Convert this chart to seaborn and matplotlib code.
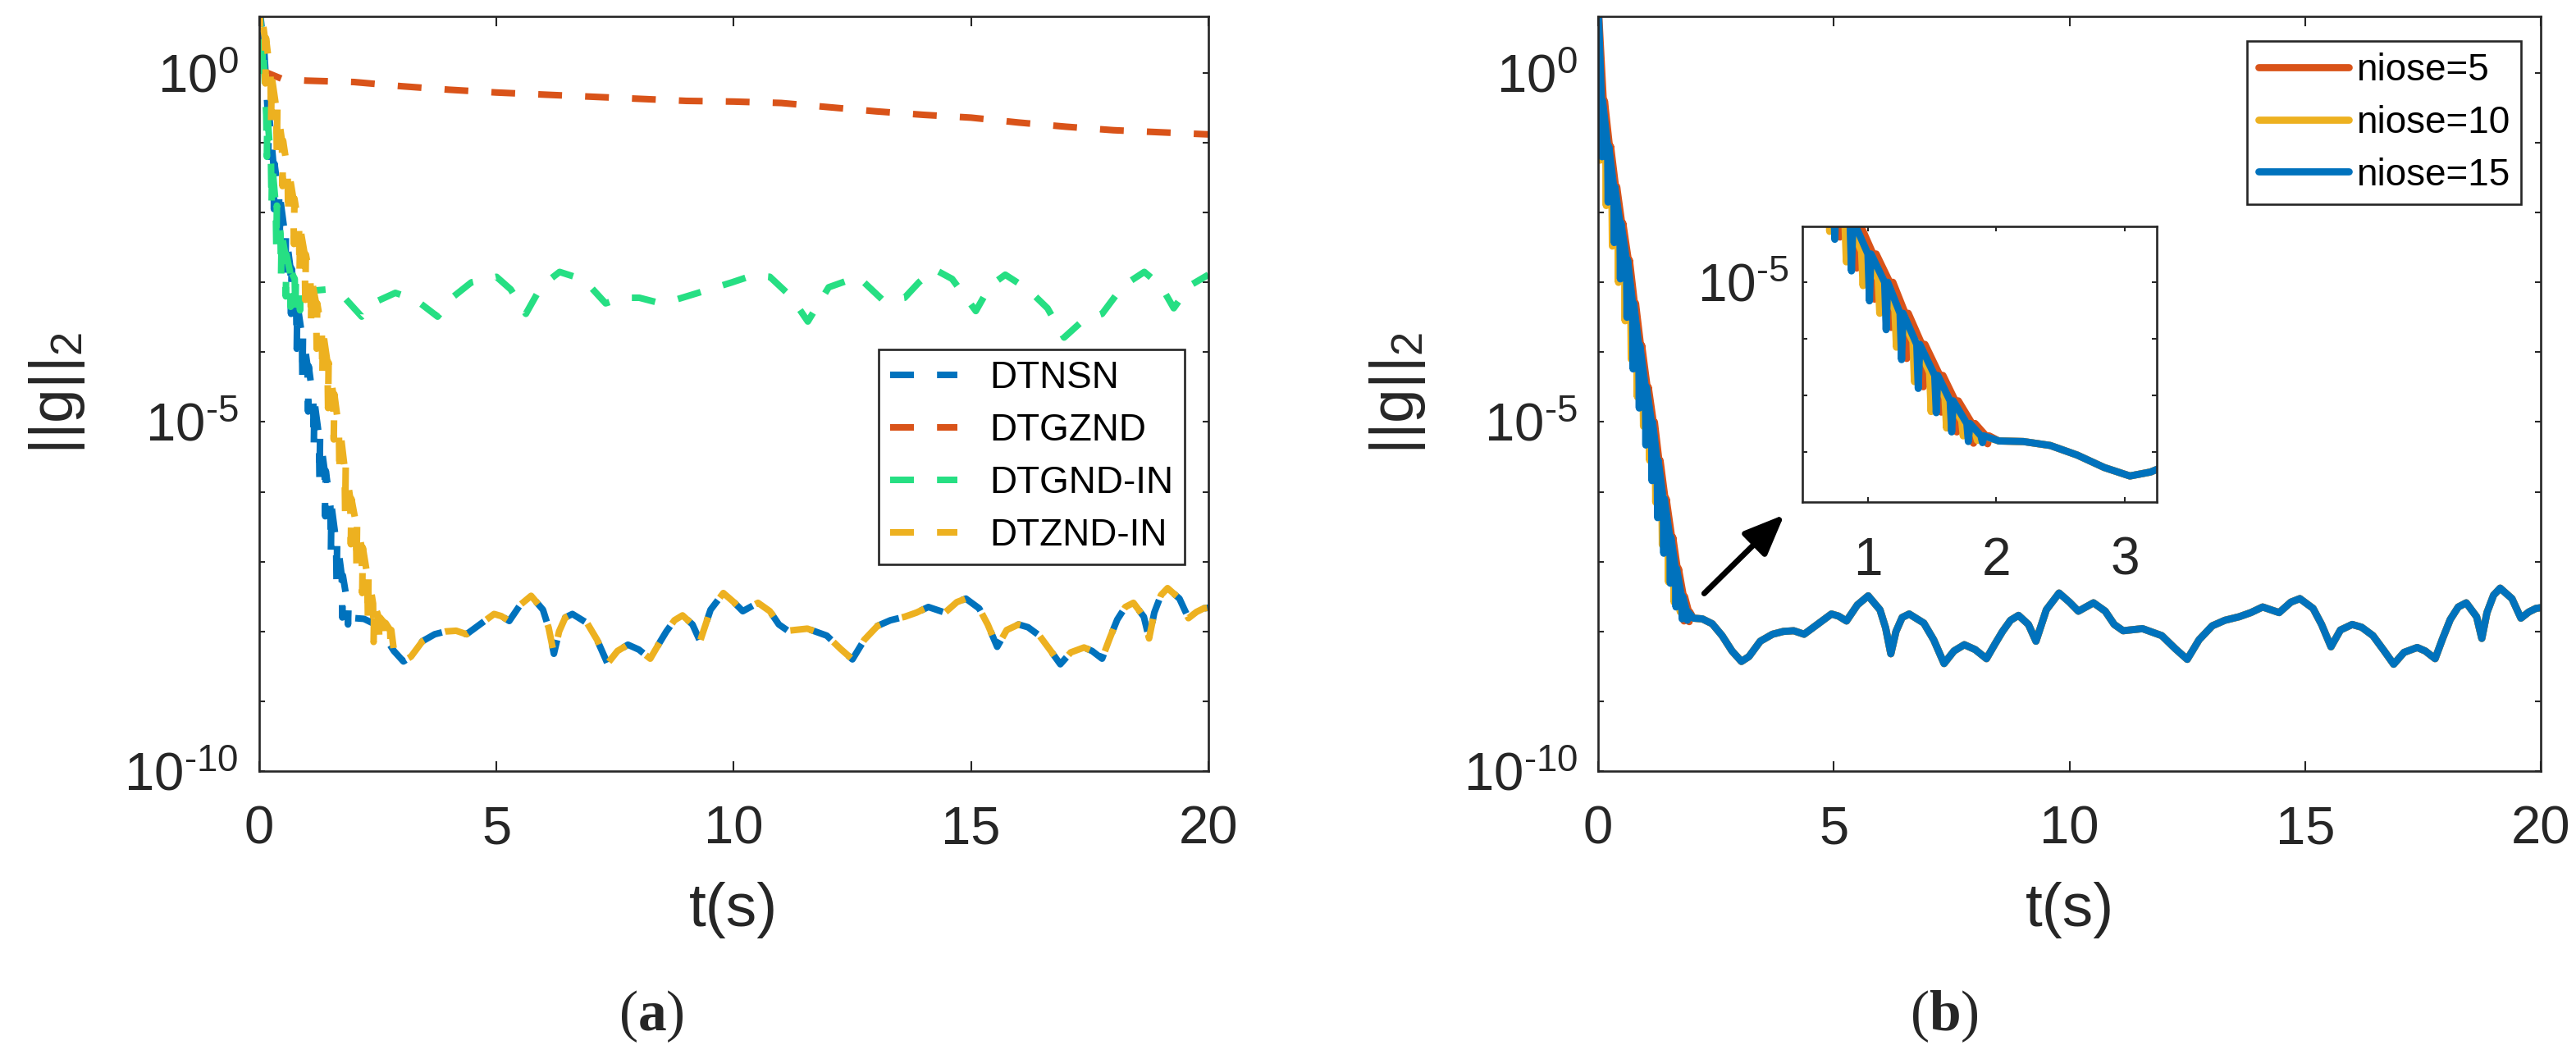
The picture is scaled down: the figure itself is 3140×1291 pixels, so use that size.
import numpy as np
import matplotlib
matplotlib.use("Agg")
import matplotlib.pyplot as plt
import matplotlib.ticker as mticker
import seaborn as sns

# MATLAB default colours + the light green of DTGND-IN
C_BLUE = '#0072BD'
C_ORANGE = '#D95319'
C_YELLOW = '#EDB120'
C_GREEN = '#26DF83'
INK = '#262626'

# ---------------- data, stored as log10(||g||_2) ----------------
# converged oscillation, common to every converging run after ~2 s
t_tail = [2.02, 2.21, 2.42, 2.63, 2.84, 3.04, 3.20, 3.44, 3.70, 3.93, 4.15, 4.37, 4.65, 4.95,
          5.10, 5.27, 5.50, 5.73, 5.98, 6.10, 6.21, 6.32, 6.45, 6.60, 6.91, 7.12, 7.34, 7.55,
          7.77, 8.00, 8.24, 8.42, 8.58, 8.75, 8.92, 9.13, 9.29, 9.51, 9.78, 10.00, 10.19, 10.51,
          10.76, 10.95, 11.14, 11.55, 11.96, 12.25, 12.50, 12.75, 13.03, 13.30, 13.60, 13.85,
          14.10, 14.45, 14.70, 14.89, 15.17, 15.35, 15.55, 15.75, 16.00, 16.20, 16.44, 16.68,
          16.88, 17.10, 17.38, 17.55, 17.76, 17.92, 18.08, 18.25, 18.42, 18.64, 18.75, 18.86,
          19.00, 19.14, 19.39, 19.58, 19.75, 19.90, 20.00]
lg_tail = [-7.81, -7.82, -7.89, -8.06, -8.28, -8.43, -8.36, -8.14, -8.04, -8.00, -7.99, -8.04, -7.90, -7.75,
           -7.78, -7.85, -7.62, -7.49, -7.69, -7.95, -8.32, -8.00, -7.80, -7.75, -7.88, -8.12, -8.46, -8.28,
           -8.19, -8.26, -8.39, -8.18, -8.00, -7.84, -7.77, -7.90, -8.14, -7.69, -7.45, -7.58, -7.71, -7.59,
           -7.71, -7.90, -7.99, -7.96, -8.06, -8.25, -8.40, -8.12, -7.92, -7.84, -7.79, -7.73,
           -7.65, -7.73, -7.58, -7.53, -7.67, -7.90, -8.22, -7.98, -7.90, -7.94, -8.06, -8.28,
           -8.47, -8.30, -8.23, -8.28, -8.39, -8.10, -7.83, -7.65, -7.59, -7.79, -8.10, -7.73,
           -7.48, -7.38, -7.53, -7.81, -7.72, -7.67, -7.66]

# (a) DTGZND: slow decay
t_gznd = [0.0, 0.5, 1.0, 2.0, 3.0, 4.0, 5.0, 6.0, 7.0, 8.0, 9.0, 10.0, 11.0, 12.0, 13.0,
          14.0, 15.0, 16.0, 17.0, 18.0, 19.0, 20.0]
lg_gznd = [0.05, -0.09, -0.11, -0.13, -0.19, -0.24, -0.28, -0.31, -0.34, -0.37, -0.40, -0.41,
           -0.43, -0.49, -0.55, -0.60, -0.64, -0.71, -0.77, -0.82, -0.85, -0.88]

# (a) DTGND-IN: noisy drop, then stalls near 1e-3
tk_gnd = [0.05, 0.15, 0.25, 0.35, 0.45, 0.55, 0.65, 0.75, 0.85]
hi_gnd = [0.50, -0.60, -1.30, -1.90, -2.30, -2.60, -2.85, -2.95, -3.00]
lo_gnd = [-0.10, -1.20, -1.90, -2.50, -2.90, -3.20, -3.35, -3.45, -3.40]
t_gnd = [1.10, 1.45, 1.80, 2.16, 2.45, 2.87, 3.30, 3.76, 4.10, 4.47, 5.00, 5.30, 5.62, 5.95,
         6.33, 6.65, 6.95, 7.30, 7.65, 8.01, 8.35, 8.72, 9.25, 9.96, 10.40, 10.76, 11.20, 11.56,
         12.00, 12.62, 13.15, 13.60, 13.90, 14.22, 14.60, 15.10, 15.40, 15.72, 16.20, 16.61,
         16.96, 17.35, 17.76, 18.20, 18.65, 19.00, 19.27, 19.60, 20.00]
lg_gnd = [-3.12, -3.10, -3.22, -3.49, -3.28, -3.15, -3.25, -3.49, -3.20, -3.00, -2.92, -3.10, -3.45, -3.05,
          -2.85, -2.92, -3.04, -3.30, -3.22, -3.22, -3.28, -3.26, -3.15, -3.00, -2.90, -2.92, -3.20, -3.56,
          -3.07, -2.92, -3.26, -3.22, -3.00, -2.81, -2.95, -3.41, -3.05, -2.89, -3.10, -3.37,
          -3.79, -3.55, -3.45, -3.05, -2.85, -3.05, -3.37, -3.05, -2.89]

# (a) DTNSN transient
tk_nsn = [0.06, 0.18, 0.30, 0.42, 0.54, 0.66, 0.78, 0.90, 1.02, 1.14, 1.26, 1.38, 1.50, 1.62, 1.74, 1.86]
hi_nsn = [0.60, -0.55, -1.30, -1.80, -2.30, -2.80, -3.30, -3.75, -4.20, -4.70, -5.20, -5.70, -6.20, -6.70, -7.20, -7.60]
lo_nsn = [-0.05, -1.20, -1.95, -2.45, -2.95, -3.45, -3.95, -4.40, -4.85, -5.35, -5.85, -6.35, -6.85, -7.35, -7.80, -7.90]

# (a) DTZND-IN transient
tk_znd = [0.00, 0.12, 0.24, 0.36, 0.48, 0.60, 0.72, 0.84, 0.96, 1.08, 1.20, 1.32, 1.44, 1.56,
          1.68, 1.80, 1.92, 2.04, 2.16, 2.28, 2.40, 2.52, 2.64, 2.76]
hi_znd = [1.00, 0.50, -0.05, -0.50, -0.97, -1.40, -1.80, -2.22, -2.60, -2.95, -3.30, -3.70, -4.15, -4.60,
          -5.10, -5.65, -6.10, -6.45, -6.80, -7.20, -7.60, -7.80, -7.88, -7.98]
lo_znd = [0.50, -0.15, -0.70, -1.15, -1.62, -2.05, -2.45, -2.87, -3.25, -3.60, -3.95, -4.35, -4.80, -5.25,
          -5.75, -6.30, -6.75, -7.10, -7.45, -7.85, -8.15, -8.15, -8.15, -8.25]

# (b) transients for the three noise levels
tk_n15 = [0.07, 0.20, 0.33, 0.46, 0.60, 0.73, 0.86, 1.00, 1.13, 1.25, 1.38, 1.52, 1.64, 1.77, 1.88]
hi_n15 = [-0.40, -1.05, -1.63, -2.15, -2.68, -3.30, -3.90, -4.50, -5.00, -5.55, -6.10, -6.65, -7.10, -7.50, -7.72]
lo_n15 = [-1.20, -1.85, -2.43, -2.95, -3.50, -4.24, -4.80, -5.33, -5.84, -6.37, -6.88, -7.31, -7.65, -7.82, -7.84]
tk_n10 = [0.03, 0.16, 0.29, 0.42, 0.56, 0.69, 0.82, 0.95, 1.08, 1.21, 1.35, 1.48, 1.60, 1.73, 1.84]
hi_n10 = [-0.45, -1.10, -1.68, -2.20, -2.73, -3.30, -3.90, -4.45, -4.95, -5.50, -6.05, -6.60, -7.05, -7.45, -7.70]
lo_n10 = [-1.25, -1.90, -2.48, -3.00, -3.55, -4.10, -4.64, -5.06, -5.55, -6.15, -6.76, -7.29, -7.58, -7.72, -7.80]
tk_n5 = [0.11, 0.24, 0.37, 0.50, 0.64, 0.77, 0.90, 1.04, 1.17, 1.29, 1.42, 1.56, 1.68, 1.81, 1.92]
hi_n5 = [-0.40, -1.05, -1.63, -2.15, -2.68, -3.30, -3.90, -4.50, -5.00, -5.55, -6.10, -6.65, -7.10, -7.50, -7.72]
lo_n5 = [-1.20, -1.85, -2.43, -2.95, -3.50, -4.20, -4.75, -5.30, -5.80, -6.35, -6.85, -7.30, -7.65, -7.85, -7.86]

LG_START = 1.0          # every run starts above the visible range
ARROW_TAIL = (2.25, 3.5e-8)
ARROW_HEAD = (3.95, 4.7e-7)


def build(tk, hi, lo, t_after, lg_after, t_join, w=0.012):
    ts, ls = [0.0], [LG_START]
    for t, h, l in zip(tk, hi, lo):
        ts += [t, t + w, t + 2 * w]
        ls += [h, l, h]
    for t, l in zip(t_after, lg_after):
        if t > t_join:
            ts.append(t)
            ls.append(l)
    return np.array(ts), 10.0 ** np.array(ls)


def decade_label(v, pos):
    # MATLAB-style 10^k with a short hyphen as minus
    e = int(round(np.log10(v)))
    s = str(e).replace('-', '\u2010')
    return r'$\mathdefault{10^{%s}}$' % s


sns.set_theme(style="ticks")
plt.rcParams.update({
    'font.family': ['Liberation Sans', 'DejaVu Sans'],
    'mathtext.fontset': 'custom',
    'mathtext.rm': 'Liberation Sans',
    'mathtext.it': 'Liberation Sans:italic',
    'mathtext.bf': 'Liberation Serif:bold',
    'axes.unicode_minus': False,
    'axes.edgecolor': INK,
    'axes.linewidth': 1.9,
    'xtick.color': INK,
    'ytick.color': INK,
})

fig = plt.figure(figsize=(31.4, 12.91), dpi=100)
ax1 = fig.add_axes([0.1006, 0.2719, 0.3685, 0.7126])
ax2 = fig.add_axes([0.6204, 0.2719, 0.3659, 0.7126])
axin = fig.add_axes([0.6997, 0.526, 0.1376, 0.2603])

DASH = (0, (3.6, 3.5))
kw_a = dict(sort=False, estimator=None, linewidth=5.8)
kw_b = dict(sort=False, estimator=None, linewidth=6.3)

for ax in (ax1, ax2, axin):
    ax.set_yscale('log')

# ---- (a)
x, y = build(tk_nsn, hi_nsn, lo_nsn, t_tail, lg_tail, 1.9)
sns.lineplot(x=x, y=y, ax=ax1, color=C_BLUE, linestyle=DASH, label='DTNSN', **kw_a)
sns.lineplot(x=np.array(t_gznd), y=10.0 ** np.array(lg_gznd), ax=ax1, color=C_ORANGE,
             linestyle=DASH, label='DTGZND', **kw_a)
x, y = build(tk_gnd, hi_gnd, lo_gnd, t_gnd, lg_gnd, 0.9)
sns.lineplot(x=x, y=y, ax=ax1, color=C_GREEN, linestyle=DASH, label='DTGND-IN', **kw_a)
x, y = build(tk_znd, hi_znd, lo_znd, t_tail, lg_tail, 2.8)
sns.lineplot(x=x, y=y, ax=ax1, color=C_YELLOW, linestyle=DASH, label='DTZND-IN', **kw_a)

# ---- (b) main and inset
runs = [('niose=5', C_ORANGE, tk_n5, hi_n5, lo_n5),
        ('niose=10', C_YELLOW, tk_n10, hi_n10, lo_n10),
        ('niose=15', C_BLUE, tk_n15, hi_n15, lo_n15)]
for name, col, tk, hi, lo in runs:
    x, y = build(tk, hi, lo, t_tail, lg_tail, 1.95)
    sns.lineplot(x=x, y=y, ax=ax2, color=col, label=name, **kw_b)
    sns.lineplot(x=x, y=y, ax=axin, color=col, legend=False, **kw_b)

for ax in (ax1, ax2):
    ax.set_xlim(0, 20)
    ax.set_ylim(1e-10, 10 ** 0.81)
    ax.xaxis.set_major_locator(mticker.FixedLocator([0, 5, 10, 15, 20]))
    ax.yaxis.set_major_locator(mticker.FixedLocator([1e-10, 1e-5, 1e0]))
    ax.yaxis.set_major_formatter(mticker.FuncFormatter(decade_label))
    ax.yaxis.set_minor_locator(mticker.FixedLocator([10.0 ** k for k in range(-9, 0)]))
    ax.yaxis.set_minor_formatter(mticker.NullFormatter())
    ax.tick_params(axis='x', which='both', direction='in', top=True, length=8.6, width=1.5,
                   labelsize=47, pad=30)
    ax.tick_params(axis='y', which='both', direction='in', right=True, length=5, width=1.5,
                   labelsize=47, pad=18)
    ax.set_xlabel('t(s)', fontsize=54, color=INK)
    ax.xaxis.set_label_coords(0.5, -0.147)
    ax.set_ylabel(r'$\mathdefault{||g||_2}$', fontsize=54, color=INK)
    ax.yaxis.set_label_coords(-0.181, 0.5)
    for s in ax.spines.values():
        s.set_visible(True)

axin.set_xlim(0.49, 3.25)
axin.set_ylim(10 ** -8.89, 10 ** -4.01)
axin.xaxis.set_major_locator(mticker.FixedLocator([1, 2, 3]))
axin.yaxis.set_major_locator(mticker.FixedLocator([1e-5]))
axin.yaxis.set_major_formatter(mticker.FuncFormatter(decade_label))
axin.yaxis.set_minor_locator(mticker.FixedLocator([1e-8, 1e-7, 1e-6]))
axin.yaxis.set_minor_formatter(mticker.NullFormatter())
axin.tick_params(axis='both', which='both', direction='in', top=True, right=True,
                 length=4.3, width=1.5, labelsize=46)
axin.tick_params(axis='x', pad=30)
axin.tick_params(axis='y', pad=12)
axin.set_xlabel('')
axin.set_ylabel('')
for s in axin.spines.values():
    s.set_visible(True)

leg_kw = dict(fontsize=33, frameon=True, fancybox=False, framealpha=1, borderpad=0.3,
              labelspacing=0.43, borderaxespad=0)
leg1 = ax1.legend(loc='upper right', bbox_to_anchor=(0.975, 0.559), handlelength=1.8,
                  handletextpad=0.85, **leg_kw)
leg2 = ax2.legend(loc='upper right', bbox_to_anchor=(0.979, 0.967), handlelength=2.4,
                  handletextpad=0.2, **leg_kw)
for leg in (leg1, leg2):
    leg.get_frame().set_edgecolor(INK)
    leg.get_frame().set_linewidth(1.9)
    for txt in leg.get_texts():
        txt.set_color('black')

ax2.annotate('', xy=ARROW_HEAD, xytext=ARROW_TAIL, xycoords='data',
             arrowprops=dict(arrowstyle='-|>,head_length=0.6,head_width=0.25',
                             mutation_scale=50, color='black', lw=5, shrinkA=0, shrinkB=0))

fig.text(794 / 3140, 1 - 1239 / 1291, r'($\mathbf{a}$)', ha='center', va='center',
         fontsize=50, family='Liberation Serif')
fig.text(2370 / 3140, 1 - 1239 / 1291, r'($\mathbf{b}$)', ha='center', va='center',
         fontsize=50, family='Liberation Serif')

fig.savefig('out.png', dpi=100)
